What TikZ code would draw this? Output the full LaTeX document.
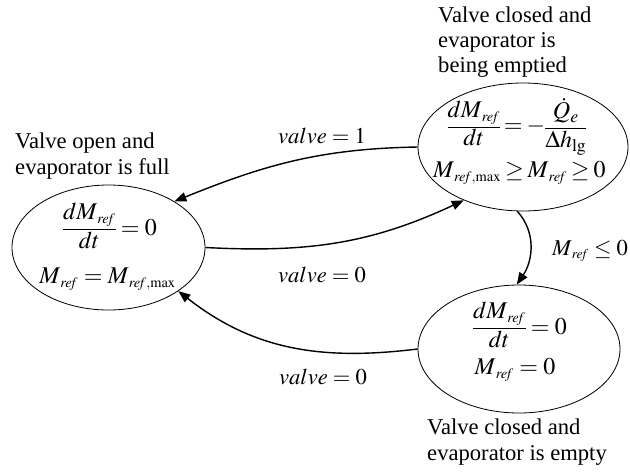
\documentclass[tikz,border=0pt]{standalone}
\usepackage{mathptmx}
\usepackage[no-math]{fontspec}
\setmainfont{Liberation Serif}
\usetikzlibrary{positioning,arrows.meta,shapes.geometric}

\newcommand{\rf}{\scriptscriptstyle\,\mathit{ref}}
\newcommand{\mx}{,\mathrm{max}}
\newcommand{\eqfrac}[2]{\begin{array}{@{}c@{}}#1\\[1.5pt]\hline\rule{0pt}{16pt}#2\end{array}}

\begin{document}
\begin{tikzpicture}[
  % Node Styles
  snode/.style={ellipse, draw, line width=0.7pt, inner sep=0pt},
  eqnode/.style={inner sep=0pt, font=\fontsize{20.5}{21}\selectfont},
  tighteq/.style={eqnode, execute at begin node={\thickmuskip=3mu}},
  txtnode/.style={inner sep=0pt, align=left, anchor=west},
  lblnode/.style={inner sep=0pt},
  % Arrow Styles
  solidarrow/.style={-{Triangle[length=0.36cm,width=0.28cm]}, line width=1.2pt},
]
\tikzset{font=\fontsize{19.3}{21.5}\selectfont}
\useasboundingbox (0,0) rectangle (18.9,-14.16);

% Evaporator states

\node[snode, minimum width=5.79cm, minimum height=3.75cm] (S_FULL) at (3.255,-7.425) {};
\node[snode, minimum width=6.30cm, minimum height=3.84cm] (S_DRAIN) at (15.69,-4.41) {};
\node[snode, minimum width=6.06cm, minimum height=3.84cm] (S_EMPTY) at (15.57,-10.47) {};

\node[eqnode] (E_FULL_A) at (3.30,-6.87) {$\eqfrac{dM_{\rf}}{dt}=0$};
\node[eqnode] (E_FULL_B) at (3.225,-8.37) {$M_{\rf}=M_{\rf\mx}$};
\node[tighteq] (E_DRAIN_A) at (15.51,-3.80) {$\eqfrac{dM_{\rf}}{dt}=-\eqfrac{\dot{Q}_e}{\Delta h_{\mathrm{lg}}}$};
\node[tighteq] (E_DRAIN_B) at (15.58,-5.19) {$M_{\rf\mx}\geq M_{\rf}\geq 0$};
\node[eqnode] (E_EMPTY_A) at (15.60,-9.84) {$\eqfrac{dM_{\rf}}{dt}=0$};
\node[eqnode] (E_EMPTY_B) at (15.45,-11.10) {$M_{\rf}=0$};

\node[txtnode] (T_FULL) at (0.45,-4.68) {Valve open and\\evaporator is full};
\node[txtnode] (T_DRAIN) at (13.14,-1.26) {Valve closed and\\evaporator is\\being emptied};
\node[txtnode] (T_EMPTY) at (12.81,-13.26) {Valve closed and\\evaporator is empty};

% Transitions

\draw[solidarrow] (S_DRAIN.west) to[out=181, in=22] (S_FULL.35);
\draw[solidarrow] (S_FULL.east) to[out=-3, in=205] (S_DRAIN.222);
\draw[solidarrow] (S_EMPTY.west) to[out=187, in=-38] (S_FULL.-32);
\draw[solidarrow] (S_DRAIN.265) to[out=-48, in=56] (S_EMPTY.92);

\node[lblnode] (L_V1) at (9.66,-4.08) {$valve=1$};
\node[lblnode] (L_V0A) at (9.66,-8.25) {$valve=0$};
\node[lblnode] (L_V0B) at (9.69,-11.31) {$valve=0$};
\node[lblnode] (L_MREF) at (17.70,-7.53) {$M_{\rf}\leq 0$};

\end{tikzpicture}
\end{document}
